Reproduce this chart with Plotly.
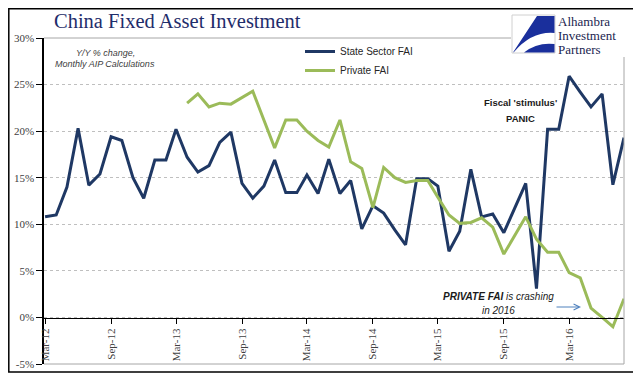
import plotly.graph_objects as go
import pandas as pd

# ---------------- data ----------------
months = pd.date_range("2012-03-01", periods=54, freq="MS")

state_fai = [10.8, 11.0, 14.0, 20.3, 14.2, 15.4, 19.4, 19.0, 15.0, 12.8,
             16.9, 16.9, 20.2, 17.2, 15.6, 16.3, 18.8, 19.9, 14.4, 12.8,
             14.1, 16.9, 13.4, 13.4, 15.3, 13.3, 17.0, 13.3, 14.7, 9.5,
             12.0, 11.2, 9.4, 7.8, 14.9, 14.9, 14.1, 7.1, 9.25, 15.9,
             10.8, 11.1, 9.1, 11.75, 14.4, 3.1, 20.2, 20.2, 25.9, 24.2,
             22.6, 24.0, 14.25, 19.3]

private_fai = [None] * 13 + [
    23.0, 24.0, 22.6, 23.0, 22.9, 23.6, 24.3, 21.2, 18.2, 21.2,
    21.2, 20.0, 19.0, 18.3, 21.2, 16.7, 16.0, 11.8, 16.1, 15.0,
    14.5, 14.7, 14.7, 12.9, 11.0, 10.1, 10.2, 10.7, 9.7, 6.8,
    8.7, 10.8, 8.4, 7.0, 7.0, 4.8, 4.25, 1.0, 0.0, -1.0, 2.0]

tick_dates = ["2012-03-01", "2012-09-01", "2013-03-01", "2013-09-01", "2014-03-01",
              "2014-09-01", "2015-03-01", "2015-09-01", "2016-03-01"]
tick_labels = ["Mar-12", "Sep-12", "Mar-13", "Sep-13", "Mar-14",
               "Sep-14", "Mar-15", "Sep-15", "Mar-16"]
y_ticks = [-5, 0, 5, 10, 15, 20, 25, 30]
y_labels = [f"{v}%" for v in y_ticks]

# ---------------- layout helpers ----------------
W, H = 641, 385
OFF = 8                      # page body margin offset
L, R, T, B = 44, 624, 38, 364  # target plot area in page pixels


def px(x):
    return (x - L) / (R - L)


def py(y):
    return (B - y) / (B - T)


NAVY = "#1f3864"
GREEN = "#9bbb59"
GRID = "#bfbfbf"
SERIF = "Liberation Serif, Times New Roman, serif"
SANS = "Liberation Sans, Arial, sans-serif"

fig = go.Figure()
fig.add_trace(go.Scatter(x=months, y=state_fai, mode="lines", name="State Sector FAI",
                         line=dict(color=NAVY, width=3)))
fig.add_trace(go.Scatter(x=months, y=private_fai, mode="lines", name="Private FAI",
                         line=dict(color=GREEN, width=3), connectgaps=False))

fig.update_layout(
    width=W, height=H,
    margin=dict(l=L - OFF, r=W - (R - OFF), t=T - OFF, b=H - (B - OFF), autoexpand=False),
    paper_bgcolor="white", plot_bgcolor="white",
    showlegend=True,
    legend=dict(x=px(300), y=py(37), xanchor="left", yanchor="top",
                bgcolor="rgba(0,0,0,0)", font=dict(family=SANS, size=10, color="#262626"),
                itemwidth=30, tracegroupgap=0),
    xaxis=dict(type="date", range=["2012-02-27", "2016-08-01"],
               anchor="free", position=py(318), automargin=False,
               tickvals=tick_dates, ticktext=tick_labels, tickangle=-90,
               ticks="outside", ticklen=5, tickcolor="black",
               showline=True, linecolor="black", linewidth=1.3,
               showgrid=False, zeroline=False,
               tickfont=dict(family=SERIF, size=11, color="#404040")),
    yaxis=dict(range=[-5, 30], tickvals=y_ticks, ticktext=y_labels, automargin=False,
               ticks="outside", ticklen=6, tickcolor="black",
               showline=True, linecolor="black", linewidth=1.5,
               showgrid=True, gridcolor=GRID, griddash="dot", gridwidth=1,
               zeroline=False,
               tickfont=dict(family=SERIF, size=11, color="#404040")),
)

shapes = []
# outer frame
shapes.append(dict(type="rect", xref="paper", yref="paper",
                   x0=px(8.8), x1=px(634), y0=py(372), y1=py(8.8),
                   line=dict(color="black", width=1.5), fillcolor="rgba(0,0,0,0)"))
# plot-area borders (grey)
shapes.append(dict(type="line", xref="paper", yref="paper", x0=0, x1=px(511), y0=1, y1=1,
                   line=dict(color="#a6a6a6", width=1)))
shapes.append(dict(type="line", xref="paper", yref="paper", x0=1, x1=1, y0=0, y1=py(57),
                   line=dict(color="#a6a6a6", width=1)))
shapes.append(dict(type="line", xref="paper", yref="paper", x0=0, x1=1, y0=0, y1=0,
                   line=dict(color="#a6a6a6", width=1)))
# logo box
shapes.append(dict(type="rect", xref="paper", yref="paper",
                   x0=px(512), x1=px(555), y0=py(53), y1=py(15),
                   line=dict(color="#d0d0d0", width=1), fillcolor="white"))


def path(points):
    s = ""
    for cmd, pts in points:
        s += cmd + " " + " ".join(f"{px(a):.5f},{py(b):.5f}" for a, b in pts) + " "
    return s + "Z"


shapes.append(dict(type="path", xref="paper", yref="paper",
                   path=path([("M", [(537, 16)]), ("L", [(554.5, 16)]), ("L", [(554.5, 33)]),
                              ("Q", [(532, 31), (514, 52)]), ("L", [(513, 52.5)])]),
                   fillcolor="#1a2f9c", line=dict(width=0)))
shapes.append(dict(type="path", xref="paper", yref="paper",
                   path=path([("M", [(524, 52.5)]), ("Q", [(537, 42), (554.5, 44)]),
                              ("L", [(554.5, 52.5)])]),
                   fillcolor="#1a2f9c", line=dict(width=0)))
fig.update_layout(shapes=shapes)

ann = []
ann.append(dict(text="China Fixed Asset Investment", x=px(177), y=py(21), xref="paper", yref="paper",
                showarrow=False, xanchor="center", yanchor="middle",
                font=dict(family=SERIF, size=20.5, color="#1f2d6b")))
for txt, yy in [("Alhambra", 21), ("Investment", 35), ("Partners", 49)]:
    ann.append(dict(text=txt, x=px(557), y=py(yy), xref="paper", yref="paper", showarrow=False,
                    xanchor="left", yanchor="middle", borderpad=0,
                    font=dict(family=SERIF, size=13, color="#1b2550")))
ann.append(dict(text="<i>Y/Y % change,</i>", x=px(105), y=py(53), xref="paper", yref="paper",
                showarrow=False, xanchor="center", yanchor="middle",
                font=dict(family=SANS, size=9, color="#404040")))
ann.append(dict(text="<i>Monthly AIP Calculations</i>", x=px(105), y=py(64), xref="paper", yref="paper",
                showarrow=False, xanchor="center", yanchor="middle",
                font=dict(family=SANS, size=9, color="#404040")))
ann.append(dict(text="<b>Fiscal 'stimulus'</b>", x=px(520), y=py(103), xref="paper", yref="paper",
                showarrow=False, xanchor="center", yanchor="middle",
                font=dict(family=SANS, size=9.5, color="#1a1a1a")))
ann.append(dict(text="<b>PANIC</b>", x=px(520), y=py(118), xref="paper", yref="paper",
                showarrow=False, xanchor="center", yanchor="middle",
                font=dict(family=SANS, size=9.5, color="#1a1a1a")))
ann.append(dict(text="<b><i>PRIVATE FAI</i></b><i> is crashing</i>", x=px(498), y=py(296),
                xref="paper", yref="paper", showarrow=False, xanchor="center", yanchor="middle",
                font=dict(family=SANS, size=10, color="#1a1a1a")))
ann.append(dict(text="<i>in 2016</i>", x=px(498), y=py(310), xref="paper", yref="paper",
                showarrow=False, xanchor="center", yanchor="middle",
                font=dict(family=SANS, size=10, color="#1a1a1a")))
ann.append(dict(text="", x=px(581), y=py(307), ax=-26, ay=0,
                xref="paper", yref="paper", axref="pixel", ayref="pixel",
                showarrow=True, arrowhead=5, arrowsize=1.2, arrowwidth=1, arrowcolor="#4f81bd"))
fig.update_layout(annotations=ann)

fig.write_html("out.html")
